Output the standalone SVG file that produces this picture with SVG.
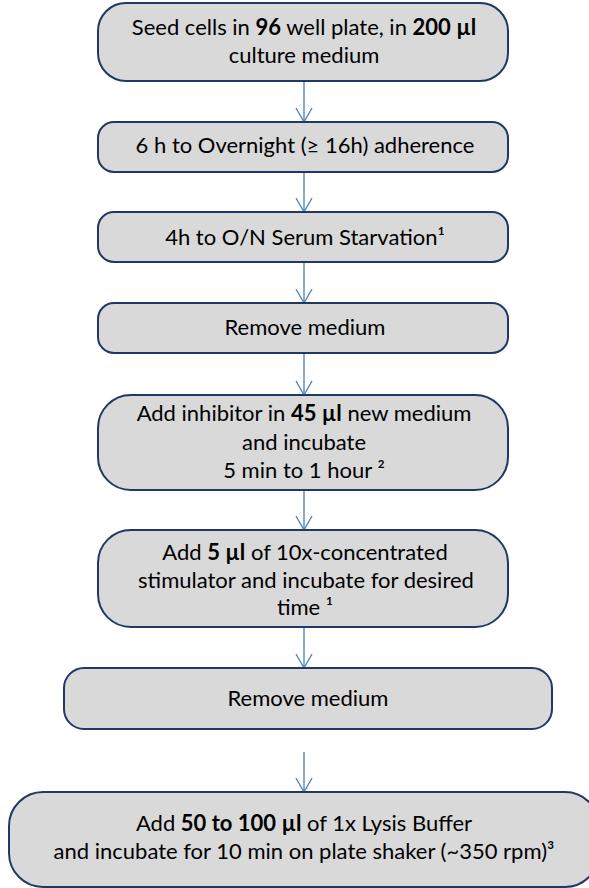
<svg xmlns="http://www.w3.org/2000/svg" width="589" height="888" viewBox="0 0 589 888">
<defs>
<marker id="arr" viewBox="0 0 16 18" refX="15" refY="9" markerWidth="16" markerHeight="18" markerUnits="userSpaceOnUse" orient="auto">
<path d="M1,1 L15,9 L1,17" fill="none" stroke="#4A7EBB" stroke-width="1.3"/>
</marker>
<style>
.box{fill:#D9D9D9;stroke:#203864;stroke-width:2}
.t{font-family:Lato,"Liberation Sans",sans-serif;font-size:22px;fill:#000;text-anchor:middle}
.b{font-weight:bold}
.c{stroke:#4A7EBB;stroke-width:1.3;fill:none;marker-end:url(#arr)}
</style>
</defs>
<rect width="589" height="888" fill="#fff"/>
<g id="connectors">
<line class="c" x1="304" y1="81" x2="304" y2="122"/>
<line class="c" x1="304" y1="172" x2="304" y2="212"/>
<line class="c" x1="304" y1="262" x2="304" y2="303"/>
<line class="c" x1="304" y1="353" x2="304" y2="395"/>
<line class="c" x1="304" y1="490" x2="304" y2="530"/>
<line class="c" x1="304" y1="627" x2="304" y2="668"/>
<line class="c" x1="304" y1="752" x2="304" y2="792"/>
</g>
<g id="n1">
<rect class="box" x="98" y="3" width="410" height="78" rx="28"/>
<text class="t" x="304" y="35">Seed cells in <tspan class="b">96</tspan> well plate, in <tspan class="b">200 µl</tspan></text>
<text class="t" x="304" y="63">culture medium</text>
</g>
<g id="n2">
<rect class="box" x="98" y="122" width="410" height="50" rx="16"/>
<text class="t" x="305" y="153">6 h to Overnight (≥ 16h) adherence</text>
</g>
<g id="n3">
<rect class="box" x="98" y="212" width="410" height="50" rx="16"/>
<text class="t" x="305" y="245">4h to O/N Serum Starvation¹</text>
</g>
<g id="n4">
<rect class="box" x="98" y="303" width="410" height="50" rx="16"/>
<text class="t" x="305" y="335">Remove medium</text>
</g>
<g id="n5">
<rect class="box" x="98" y="395" width="410" height="95" rx="33"/>
<text class="t" x="304" y="421">Add inhibitor in <tspan class="b">45 µl</tspan> new medium</text>
<text class="t" x="304" y="450">and incubate</text>
<text class="t" x="304" y="478">5 min to 1 hour ²</text>
</g>
<g id="n6">
<rect class="box" x="98" y="530" width="410" height="97" rx="33"/>
<text class="t" x="305" y="560">Add <tspan class="b">5 µl</tspan> of 10x-concentrated</text>
<text class="t" x="306" y="588">stimulator and incubate for desired</text>
<text class="t" x="305" y="615">time ¹</text>
</g>
<g id="n7">
<rect class="box" x="64" y="668" width="488" height="61" rx="20"/>
<text class="t" x="308" y="706">Remove medium</text>
</g>
<g id="n8">
<rect class="box" x="9" y="792" width="590" height="95" rx="34"/>
<text class="t" x="304" y="831">Add <tspan class="b">50 to 100 µl</tspan> of 1x Lysis Buffer</text>
<text class="t" x="304" y="859">and incubate for 10 min on plate shaker (~350 rpm)³</text>
</g>
</svg>
